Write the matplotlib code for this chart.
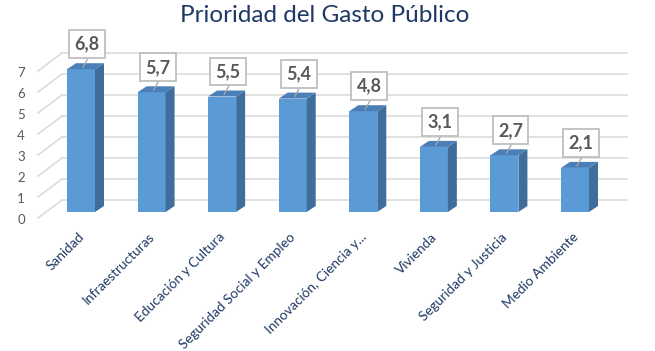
import matplotlib
matplotlib.use("Agg")
import matplotlib.pyplot as plt
from matplotlib.patches import Polygon

categories = ["Sanidad", "Infraestructuras", "Educación y Cultura",
              "Seguridad Social y Empleo", "Innovación, Ciencia y...",
              "Vivienda", "Seguridad y Justicia", "Medio Ambiente"]
values = [6.8, 5.7, 5.5, 5.4, 4.8, 3.1, 2.7, 2.1]
labels = ["6,8", "5,7", "5,5", "5,4", "4,8", "3,1", "2,7", "2,1"]
yticks = [0, 1, 2, 3, 4, 5, 6, 7]

# pixel geometry of the fake 3D layout
W, H = 655, 351
X0, SX = 81.0, 70.57     # px of first category, px per category
Y0, SY = 212.0, 21.0     # px of value 0 (bar front base), px per unit


def px(x, y):
    # pixel (from top-left) -> data coords
    return (x - X0) / SX, (Y0 - y) / SY


fig = plt.figure(figsize=(W / 100, H / 100), dpi=100)
ax = fig.add_axes([0, 0, 1, 1])
x_lo, y_hi = px(0, 0)
x_hi, y_lo = px(W, H)
ax.set_xlim(x_lo, x_hi)
ax.set_ylim(y_lo, y_hi)
ax.axis("off")

grid_c = "#D9D9D9"
dx_px, dy_px = 1 / SX, 1 / SY

# walls: back wall gridlines + left side diagonals
wall_l = px(62, 0)[0]
wall_r = px(627, 0)[0]
front_l = px(38, 0)[0]
for v in yticks:
    yb = v + 12 * dy_px
    yf = v - 6 * dy_px
    ax.plot([wall_l, wall_r], [yb, yb], color=grid_c, lw=1.1, zorder=1)
    ax.plot([front_l, wall_l], [yf, yb], color=grid_c, lw=1.1, zorder=1)
    ax.text(px(21, 0)[0], v - 8 * dy_px, str(v), ha="center", va="center",
            fontsize=9.5, color="#595959", family="Lato")

# bars
hw = 14 * dx_px
sd_x, sd_y = 9 * dx_px, 6 * dy_px
for i, v in enumerate(values):
    front = Polygon([(i - hw, 0), (i + hw, 0), (i + hw, v), (i - hw, v)],
                    closed=True, fc="#5B9BD5", ec="none", zorder=3)
    side = Polygon([(i + hw, 0), (i + hw + sd_x, sd_y), (i + hw + sd_x, v + sd_y),
                    (i + hw, v)], closed=True, fc="#3F6E9C", ec="none", zorder=3)
    top = Polygon([(i - hw, v), (i + hw, v), (i + hw + sd_x, v + sd_y),
                   (i - hw + sd_x, v + sd_y)], closed=True, fc="#4B7FB8",
                  ec="none", zorder=3)
    for p in (front, side, top):
        ax.add_patch(p)

    # leader line and value label
    ax.plot([i + 2 * dx_px, i + 7 * dx_px], [v + 2 * dy_px, v + 11 * dy_px],
            color="#A6A6A6", lw=0.9, zorder=4)
    ax.text(i + 6 * dx_px, v + 25 * dy_px, labels[i], ha="center", va="center",
            fontsize=13, fontweight="bold", color="#595959", family="Lato",
            zorder=5,
            bbox=dict(boxstyle="square,pad=0.3", fc="white", ec="#BFBFBF", lw=1.3))

    # category label
    ax.text(i + 1 * dx_px, -23 * dy_px, categories[i], rotation=45,
            rotation_mode="anchor", ha="right", va="center", fontsize=9.8,
            color="#1F3864", family="Lato")

tx, ty = px(325, 16)
ax.text(tx, ty, "Prioridad del Gasto Público", ha="center", va="center",
        fontsize=17.5, color="#1F3864", family="Lato")

fig.savefig("out.png", dpi=100)
